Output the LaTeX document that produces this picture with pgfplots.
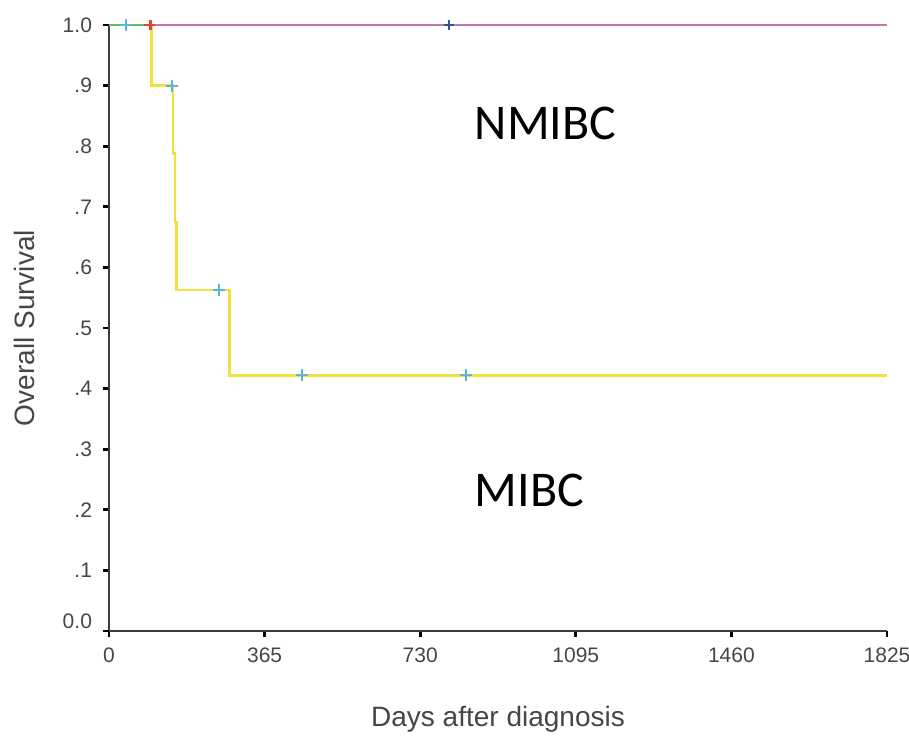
\documentclass[border=0pt]{standalone}
\usepackage{fontspec}
\setmainfont{Liberation Sans}
\newfontfamily\calibri{Carlito}
\usepackage{pgfplots}
\pgfplotsset{compat=1.18}
\definecolor{kmyellow}{RGB}{240,225,60}
\definecolor{kmpink}{RGB}{192,120,176}
\definecolor{kmcyan}{RGB}{92,180,214}
\definecolor{kmblue}{RGB}{50,80,160}
\definecolor{kmgreen}{RGB}{100,190,90}
\definecolor{kmred}{RGB}{225,70,50}
\definecolor{txtgray}{RGB}{70,70,70}
\definecolor{axgray}{RGB}{60,60,60}

\begin{document}
\begin{tikzpicture}
\useasboundingbox (-54.5pt,-52.5pt) rectangle (400pt,315.5pt);
\begin{axis}[
    at={(0,0)}, anchor=south west,
    scale only axis,
    width=389pt, height=303pt,
    xmin=0, xmax=1825, ymin=0, ymax=1,
    axis lines=left,
    axis line style={-, draw=axgray, line width=1.1pt},
    tick align=outside,
    major tick length=3pt,
    tick style={black, line width=1.4pt},
    xtick={0,365,730,1095,1460,1825},
    xticklabels={0,365,730,1095,1460,1825},
    ytick={0.1,0.2,0.3,0.4,0.5,0.6,0.7,0.8,0.9,1.0},
    yticklabels={.1,.2,.3,.4,.5,.6,.7,.8,.9,1.0},
    extra y ticks={0},
    extra y tick labels={0.0},
    extra y tick style={yticklabel style={yshift=5pt}},
    /pgf/number format/assume math mode=true,
    ticklabel style={font=\fontsize{10.5}{12}\selectfont, text=txtgray},
    yticklabel style={xshift=-2pt},
    xticklabel style={yshift=-2pt},
    xlabel={Days after diagnosis},
    ylabel={Overall Survival},
    label style={font=\fontsize{14}{16}\selectfont, text=txtgray},
    xlabel style={at={(axis description cs:0.5,-0.145)}, anchor=center},
    ylabel style={at={(axis description cs:-0.109,0.5)}, anchor=center, rotate=0},
    clip=false,
]
% MIBC
\addplot[const plot, kmyellow, line width=1.3pt] coordinates {
    (0,1) (99,0.9) (150,0.7875) (155,0.675) (158,0.5625) (282,0.421875) (1825,0.421875)};
\addplot[only marks, mark=+, mark size=3pt, kmcyan, line width=1.1pt] coordinates {
    (40,1) (148,0.9) (258,0.5625) (453,0.421875) (838,0.421875)};
% NMIBC
\addplot[only marks, mark=+, mark size=2.5pt, kmblue, line width=1.3pt] coordinates {(798,1)};
\addplot[only marks, mark=+, mark size=2.5pt, kmred, line width=1.3pt] coordinates {(97,1)};
\addplot[kmgreen, line width=1.4pt] coordinates {(0,1) (82,1)};
\addplot[kmred, line width=1.4pt] coordinates {(82,1) (99,1)};
\addplot[kmpink, line width=1.4pt] coordinates {(99,1) (1825,1)};
\node[anchor=west, inner sep=0pt, font=\calibri\fontsize{25}{30}\selectfont] at (axis cs:857,0.838) {NMIBC};
\node[anchor=west, inner sep=0pt, font=\calibri\fontsize{25}{30}\selectfont] at (axis cs:857,0.232) {MIBC};
\end{axis}
\end{tikzpicture}
\end{document}
